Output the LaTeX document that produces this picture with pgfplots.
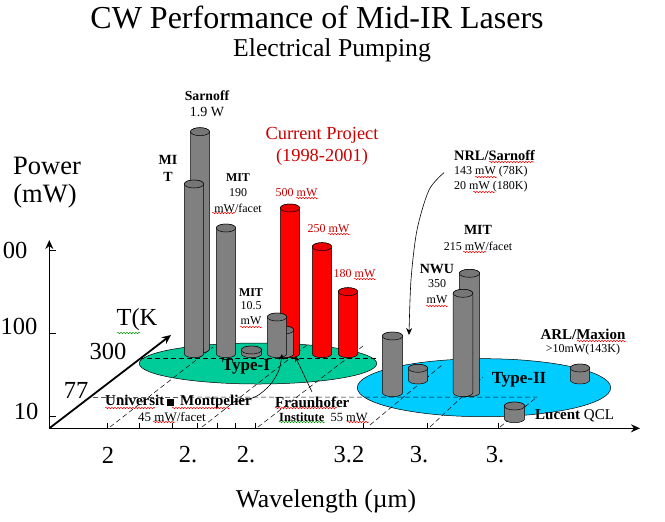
\documentclass[border=0pt]{standalone}
\usepackage{fontspec}
\setmainfont{Liberation Serif}
\usepackage{pgfplots}
\pgfplotsset{compat=1.18}
\usetikzlibrary{decorations.pathmorphing,arrows.meta}
\definecolor{cylgrey}{RGB}{128,128,128}
\definecolor{cylred}{RGB}{255,0,0}
\definecolor{typeone}{RGB}{0,204,153}
\definecolor{typetwo}{RGB}{0,204,255}
\definecolor{txtred}{RGB}{204,0,0}
\definecolor{wavegreen}{RGB}{0,150,0}
\newcommand\fs[1]{\fontsize{#1}{#1}\selectfont}
\newcommand\cyl[1]{%
  \draw[fill=#1,line width=.5pt,line join=round] (-\cylw pt,0pt) -- (-\cylw pt,\cylh pt)
     arc[start angle=180,end angle=0,x radius=\cylw pt,y radius=4pt] -- (\cylw pt,0pt)
     arc[start angle=0,end angle=-180,x radius=\cylw pt,y radius=4pt] -- cycle;
  \draw[line width=.5pt,fill=#1!92!black] (0pt,\cylh pt) ellipse [x radius=\cylw pt,y radius=4pt];}
\pgfdeclareplotmark{cylg}{\cyl{cylgrey}}
\pgfdeclareplotmark{cylr}{\cyl{cylred}}
\pgfdeclareplotmark{disc1}{\draw[fill=typeone,line width=.5pt] (0pt,0pt) ellipse [x radius=\cylw pt,y radius=\cylh pt];}
\pgfdeclareplotmark{disc2}{\draw[fill=typetwo,line width=.5pt] (0pt,0pt) ellipse [x radius=\cylw pt,y radius=\cylh pt];}
\pgfplotsset{cylstyle/.style={only marks,scatter,
   visualization depends on={\thisrow{h}\as\cylh},
   visualization depends on={\thisrow{w}\as\cylw},
   scatter/@pre marker code/.code={\scope},
   scatter/@post marker code/.code={\endscope}},
   guide/.style={black,dash pattern=on 5pt off 3pt,line width=.5pt},
   fg/.style={black},
   page/.style={at={(0,0)},anchor=north west,x=1pt,y=1pt,y dir=reverse,hide axis,
     xmin=0,xmax=665,ymin=0,ymax=522,clip=false}}
\pgfplotstableread{
x y h w
258 363.5 20.5 118.7
}\typeonetable
\pgfplotstableread{
x y h w
484 387.7 29 126.7
}\typetwotable
\pgfplotstableread{
x y h w
290 353.7 145.7 9.7
322 353.7 107 9.7
348 353.7 62 9.7
}\redtable
\pgfplotstableread{
x y h w
200 349 217.3 9.5
194 353.7 169.7 9.7
226 353.7 125.7 9.7
251.5 353.7 3.7 10.2
284 353.7 23.7 9.7
277 353.7 36.7 9.7
}\greyleft
\pgfplotstableread{
x y h w
392.5 392.7 56.7 10.2
418 380 11.7 9.7
469.5 392.7 119.4 10.2
463 392.7 99.4 9.8
580 380 12 9.7
514.5 418.7 12.7 10.2
}\greyright
\newcommand\T[4][]{\node[inner sep=0pt,#1] at (axis cs:#2,#3) {#4};}
\newcommand\wav[4]{\draw[#4,line width=.5pt,decorate,decoration={snake,amplitude=.7pt,segment length=3pt}] (axis cs:#1,#3) -- (axis cs:#2,#3);}
\begin{document}
\begin{tikzpicture}
\useasboundingbox (0,0) rectangle (665pt,-522pt);
\begin{axis}[page]
% Type ellipses
\addplot[cylstyle,mark=disc1] table {\typeonetable};
\addplot[cylstyle,mark=disc2] table {\typetwotable};
\end{axis}
\begin{axis}[page]
% dashed guide lines
\addplot[guide] coordinates {(93,397.3)(537,397)};
\addplot[guide] coordinates {(139,358)(376,358)};
\addplot[guide] coordinates {(110,427)(213,347)};
\addplot[guide] coordinates {(202,427)(307,345)};
\addplot[guide] coordinates {(258,427)(363,346)};
\addplot[guide] coordinates {(370,425)(442,365)};
\addplot[guide] coordinates {(430,427)(483,377)};
\addplot[guide] coordinates {(500,427)(537,397)};
% cylinders
\addplot[cylstyle,mark=cylr] table {\redtable};
\addplot[cylstyle,mark=cylg] table {\greyleft};
\addplot[cylstyle,mark=cylg] table {\greyright};
\end{axis}
\begin{axis}[page]
% axes
\addplot[fg,line width=1.4pt,-{Stealth[length=9pt,width=8pt]}] coordinates {(49.3,428.3)(49.3,240)};
\addplot[fg,line width=1.4pt,-{Stealth[length=9pt,width=8pt]}] coordinates {(49.3,428.3)(640,428.3)};
\addplot[fg,line width=1.8pt,-{Stealth[length=9pt,width=8pt]}] coordinates {(49.3,428.3)(171,335)};
\addplot[fg,line width=.8pt] coordinates {(49,416.7)(56,416.7)};
\addplot[fg,line width=.8pt] coordinates {(49,333.3)(56,333.3)};
\addplot[fg,line width=.8pt] coordinates {(49,250)(56,250)};
\addplot[fg,line width=.7pt] coordinates {(107,428)(107,423)};
\addplot[fg,line width=.7pt] coordinates {(139,428)(139,423)};
\addplot[fg,line width=.7pt] coordinates {(172,428)(172,423)};
\addplot[fg,line width=.7pt] coordinates {(197,428)(197,423)};
\addplot[fg,line width=.7pt] coordinates {(217,428)(217,423)};
\addplot[fg,line width=.7pt] coordinates {(235,428)(235,423)};
\addplot[fg,line width=.7pt] coordinates {(255,428)(255,423)};
\addplot[fg,line width=.7pt] coordinates {(363,428)(363,423)};
\addplot[fg,line width=.7pt] coordinates {(427,428)(427,423)};
\addplot[fg,line width=.7pt] coordinates {(498,428)(498,423)};
% curved pointers
\addplot[fg,line width=.6pt,smooth,-{Stealth[length=7pt,width=6pt]}] coordinates {(444,172.7)(429,190)(417,230)(411,280)(409,335)};
\addplot[fg,line width=.6pt,smooth,-{Stealth[length=6pt,width=5pt]}] coordinates {(233,402)(255,397)(270,385)(279,370)(282,354)};
\addplot[fg,line width=.6pt,-{Stealth[length=6pt,width=5pt]}] coordinates {(312,392)(295,356)};
% text
\T{317}{17}{\fs{32}CW Performance of Mid-IR Lasers}
\T{332}{50}{\fs{25.7}Electrical Pumping}
\T{207}{96}{\fs{13.8}\bfseries Sarnoff}
\T{207}{112}{\fs{14}1.9 W}
\T{168}{160}{\fs{14}\bfseries MI}
\T{168}{177}{\fs{14}\bfseries T}
\T{238}{178}{\fs{12}\bfseries MIT}
\T{238}{193}{\fs{12}190}
\T{238}{208}{\fs{12}mW/facet}
\T{322}{135}{\fs{18.4}\color{txtred}Current Project}
\T{322}{157}{\fs{18.4}\color{txtred}(1998-2001)}
\T{296.5}{193}{\fs{12}\color{txtred}500 mW}
\T{328.5}{229}{\fs{12}\color{txtred}250 mW}
\T{354.5}{274}{\fs{12}\color{txtred}180 mW}
\T{251}{293}{\fs{12}\bfseries MIT}
\T{251}{306}{\fs{12}10.5}
\T{251}{321}{\fs{12}mW}
\T{47}{166}{\fs{26.5}Power}
\T{45}{196}{\fs{26.5}(mW)}
\T{15}{250}{\fs{24.5}00}
\T{19}{326}{\fs{24.5}100}
\T{26}{411}{\fs{24.5}10}
\T{137}{320}{\fs{24.5}T(K}
\T{108}{351}{\fs{24.5}300}
\T{76}{390}{\fs{24.5}77}
\T{108}{455}{\fs{24.5}2}
\T{188}{455}{\fs{24.5}2.}
\T{246}{455}{\fs{24.5}2.}
\T{349}{455}{\fs{24.5}3.2}
\T{419}{455}{\fs{24.5}3.}
\T{495}{455}{\fs{24.5}3.}
\T{326}{501}{\fs{25.7}Wavelength (µm)}
\T{246}{367}{\fs{17}\bfseries Type-I}
\T{519}{380}{\fs{17}\bfseries Type-II}
\T[anchor=west]{454}{155}{\fs{14.4}\bfseries NRL/Sarnoff}
\T[anchor=west]{454}{172}{\fs{12}143 mW (78K)}
\T[anchor=west]{454}{187}{\fs{12}20 mW (180K)}
\T{478}{230}{\fs{14}\bfseries MIT}
\T{478}{246}{\fs{12}215 mW/facet}
\T{437}{269}{\fs{14}\bfseries NWU}
\T{437}{284}{\fs{12}350}
\T{437}{300}{\fs{12}mW}
\T{583}{334}{\fs{15}\bfseries ARL/Maxion}
\T{583}{350}{\fs{12}>10mW(143K)}
\T[anchor=west]{535}{416}{\fs{15}\textbf{Lucent} QCL}
\T[anchor=west]{105}{402}{\fs{15}\bfseries Universit\,\rule{7pt}{7pt}\, Montpelier}
\T[anchor=west]{138}{417}{\fs{13}45 mW/facet}
\T[anchor=west]{275}{402}{\fs{15}\bfseries Fraunhofer}
\T[anchor=west]{279}{417}{\fs{12.5}\textbf{Institute}\ \ 55 mW}
% spell-check underlines
\wav{296}{318}{198}{red}
\wav{328}{350}{234}{red}
\wav{354}{376}{279}{red}
\wav{212}{235}{213}{red}
\wav{240}{262}{327}{red}
\wav{117}{140}{333}{wavegreen}
\wav{105}{155}{408}{red}
\wav{172}{230}{408}{red}
\wav{153}{175}{422}{red}
\wav{275}{337}{408}{red}
\wav{279}{325}{422}{wavegreen}
\wav{347}{369}{422}{red}
\wav{489}{534}{162}{red}
\wav{475}{497}{177}{red}
\wav{473}{495}{192}{red}
\wav{463}{486}{252}{red}
\wav{426}{448}{306}{red}
\wav{577}{626}{341}{red}
\end{axis}
\end{tikzpicture}
\end{document}
